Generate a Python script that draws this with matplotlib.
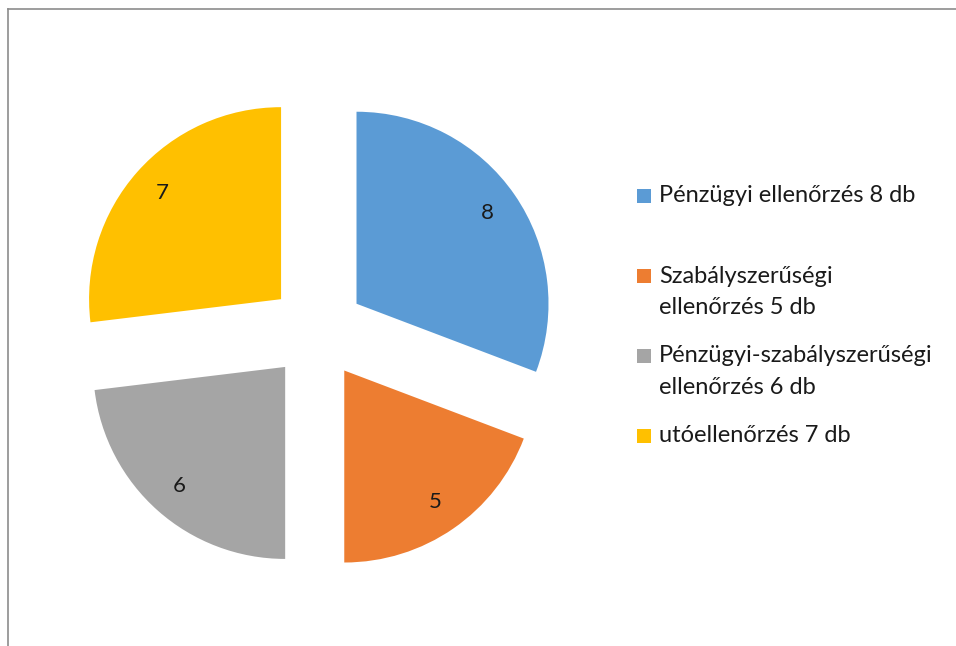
import matplotlib
matplotlib.use("Agg")
import matplotlib.pyplot as plt
from matplotlib.lines import Line2D
from matplotlib.patches import Rectangle

categories = ["Pénzügyi ellenőrzés 8 db", "Szabályszerűségi\nellenőrzés 5 db",
              "Pénzügyi-szabályszerűségi\nellenőrzés 6 db", "utóellenőrzés 7 db"]
values = [8, 5, 6, 7]
colors = ["#5B9BD5", "#ED7D31", "#A5A5A5", "#FFC000"]

plt.rcParams["font.family"] = ["Lato", "DejaVu Sans"]

W, H = 956, 646
fig = plt.figure(figsize=(W / 100, H / 100), dpi=100)

# pie axes: centre at (317, 331) px, radius 192 px
cx, cy, r, half = 317, 331, 192, 265
ax = fig.add_axes([(cx - half) / W, (H - cy - half) / H, 2 * half / W, 2 * half / H])
total = sum(values)
ax.pie(values, colors=colors, startangle=90, counterclock=False,
       explode=[0.25] * len(values), pctdistance=0.83,
       autopct=lambda p: f"{round(p * total / 100)}",
       textprops=dict(fontsize=16, color="#1a1a1a"),
       wedgeprops=dict(linewidth=0))
lim = half / r
ax.set_xlim(-lim, lim)
ax.set_ylim(-lim, lim)
ax.set_aspect("equal")
ax.axis("off")

# legend drawn by hand
legend_y = [196, 276, 356, 436]
for lab, col, y in zip(categories, colors, legend_y):
    fig.patches.append(Rectangle((637 / W, (H - y - 7) / H), 14 / W, 14 / H,
                                 transform=fig.transFigure, fc=col, ec="none"))
    for i, line in enumerate(lab.split("\n")):
        fig.text(659 / W, (H - y - 31 * i) / H, line, fontsize=17, color="#1a1a1a",
                 va="center", ha="left")

# chart area border (only top and left visible)
fig.add_artist(Line2D([7.5 / W, 1], [(H - 8.5) / H] * 2, transform=fig.transFigure,
                      color="#8c8c8c", lw=1.2))
fig.add_artist(Line2D([7.5 / W] * 2, [0, (H - 8.5) / H], transform=fig.transFigure,
                      color="#8c8c8c", lw=1.2))

fig.savefig("out.png", dpi=100, facecolor="white")
